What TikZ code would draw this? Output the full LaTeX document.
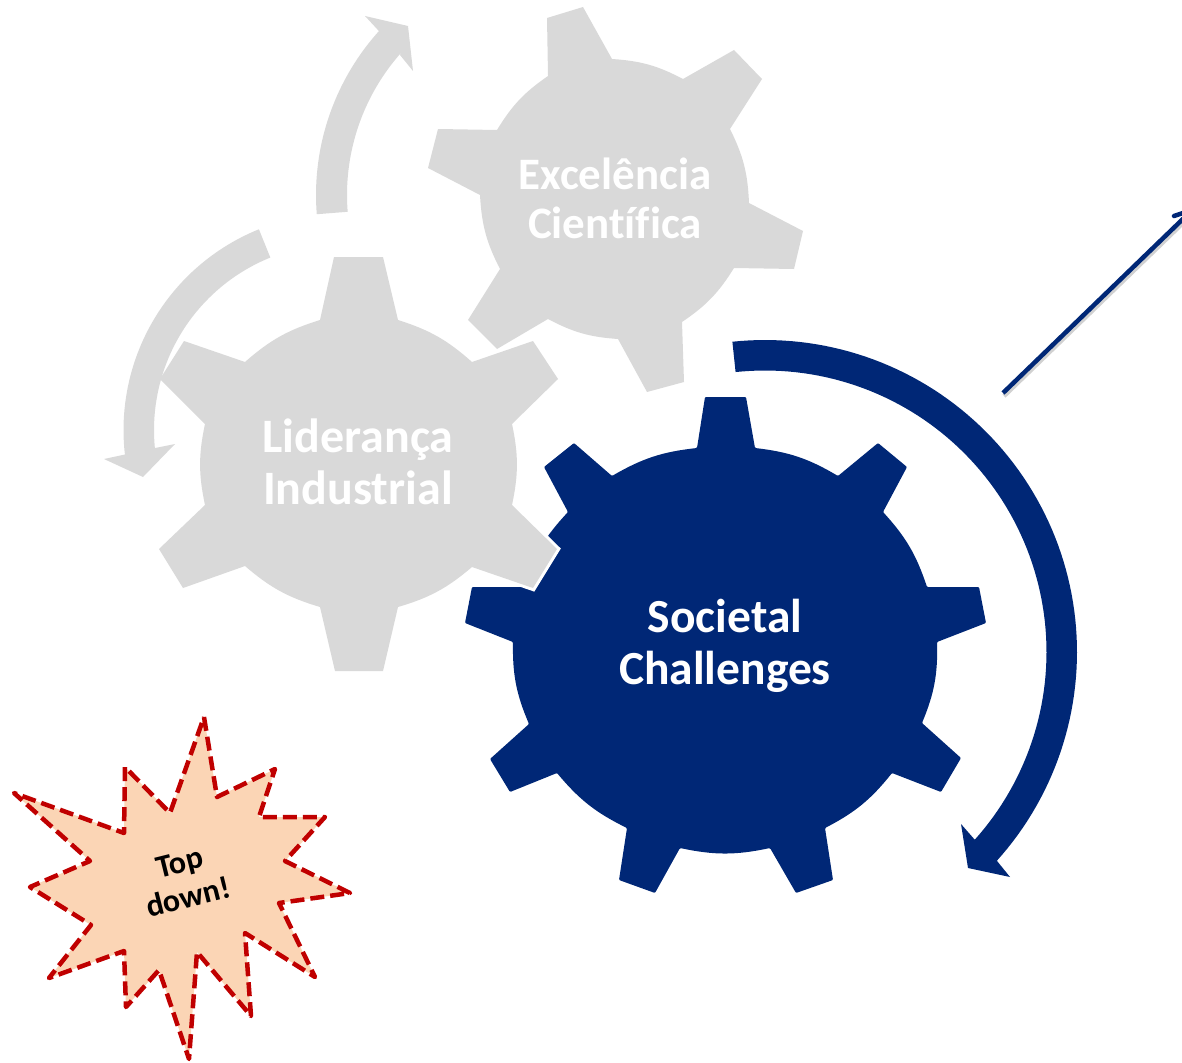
\documentclass[tikz,border=0pt]{standalone}
\usepackage{fontspec}
\setmainfont[RawFeature=-liga]{Carlito}
\definecolor{navygear}{HTML}{002776}
\definecolor{greygear}{HTML}{D9D9D9}
\definecolor{starfill}{HTML}{FBD5B5}
\definecolor{starline}{HTML}{C00000}
\tikzset{
  greyshape/.style={fill=greygear,draw=none},
  navyshape/.style={fill=navygear,draw=none},
  geartext/.style={text=white,font=\fontsize{47}{52}\selectfont\bfseries,align=center,inner sep=0pt},
  rim/.style={bend left=12}
}
\newcommand{\lidergear}{(334,257)--(383,257)--(398,320) to[rim] (472,362)--(533,341)--(558,379)--(512,424) to[rim] (512,505)--(557,549)--(533,588)--(472,567) to[rim] (398,607)--(383,671)--(335,671)--(320,607) to[rim] (245,566)--(183,588)--(159,549)--(205,505) to[rim] (205,424)--(160,379)--(184,341)--(245,362) to[rim] (320,320)--cycle}
\begin{document}
\begin{tikzpicture}[x=1pt,y=-1pt]
\useasboundingbox (0,0) rectangle (1182,1062);
\clip (0,0) rectangle (1182,1062);
% Excelencia gear
\path[greyshape] (547,18)--(583,7)--(612,59) to[rim] (683,79)--(734,50)--(762,79)--(730,129) to[rim] (749,203)--(803,231)--(794,269)--(734,268) to[rim] (682,322)--(684,382)--(647,392)--(618,339) to[rim] (548,319)--(497,349)--(468,320)--(500,269) to[rim] (480,195)--(428,168)--(438,129)--(497,130) to[rim] (548,76)--cycle;
% Societal gear
\path[navyshape,rounded corners=1pt] (705,397)--(746,397)--(755,448) to[rim] (838,476)--(878,443)--(907,467)--(883,512) to[rim] (927,587)--(979,587)--(986,623)--(937,642) to[rim] (922,723)--(961,758)--(941,792)--(892,773) to[rim] (825,828)--(833,880)--(796,893)--(770,848) to[rim] (680,848)--(655,893)--(619,880)--(627,828) to[rim] (557,773)--(510,792)--(490,759)--(529,724) to[rim] (513,642)--(465,623)--(472,587)--(523,587) to[rim] (568,512)--(544,467)--(574,443)--(612,476) to[rim] (697,448)--cycle;
% Lideranca gear: white halo, then the grey shape
\path[draw=white,line width=6pt] \lidergear;
\path[greyshape] \lidergear;
% curved arrows
\path[greyshape] plot[domain=175.5:222,samples=40] ({561+245*cos(\x)},{195+245*sin(\x)}) -- (365,16) -- (408,26) -- (413,71) -- (400,55) -- plot[domain=222:175.5,samples=40] ({561+214*cos(\x)},{195+214*sin(\x)}) -- cycle;
\path[greyshape] plot[domain=248:173.5,samples=50] ({340+216.5*cos(\x)},{430+216.5*sin(\x)}) -- (104,459) -- (143,477) -- (175,444) -- (155,448) -- plot[domain=173.5:248,samples=50] ({340+186*cos(\x)},{430+186*sin(\x)}) -- cycle;
\path[navyshape] plot[domain=-96:42,samples=90] ({765+312*cos(\x)},{652+312*sin(\x)}) -- (1010,877) -- (968,868) -- (961,824) -- (975,840) -- plot[domain=42:-96,samples=90] ({765+281.5*cos(\x)},{652+281.5*sin(\x)}) -- cycle;
% gear labels
\node[geartext,font=\fontsize{45}{49}\selectfont\bfseries] (excel) at (615,198) {Excelência\\Científica};
\node[geartext,font=\fontsize{48}{52}\selectfont\bfseries] (lider) at (358,462) {Liderança\\Industrial};
\node[geartext,font=\fontsize{47.5}{52}\selectfont\bfseries] (soc) at (725,646) {Societal\\Challenges};
% straight arrow
\coordinate (linestart) at (1003,393);
\coordinate (lineend) at (1186,216);
\coordinate (headend) at (1174,216);
\coordinate (headtip) at (1186,212);
\coordinate (linestartS) at (1004,396);
\coordinate (lineendS) at (1187,219);
\draw[black!18,line width=4.5pt] (linestartS) -- (lineendS);
\draw[navygear,line width=4.5pt] (linestart) -- (lineend);
\draw[navygear,line width=4.5pt,line cap=round] (headend) -- (headtip);
% star
\path[fill=starfill,draw=starline,line width=4.5pt,dash pattern=on 14pt off 6pt,line join=round]
 (204,717)--(217,797)--(275,769)--(259,817)--(325,817)--(285,861)--(350,893)--(279,903)--(315,977)--(245,933)--(251,1016)--(197,952)--(189,1059)--(159,970)--(126,1007)--(124,951)--(49,978)--(91,925)--(30,887)--(90,861)--(14,793)--(124,833)--(125,767)--(170,813)--cycle;
\node[rotate=14,font=\fontsize{32}{36}\selectfont\bfseries,align=center,inner sep=0pt] (top) at (184,880) {Top\\down!};
\end{tikzpicture}
\end{document}
